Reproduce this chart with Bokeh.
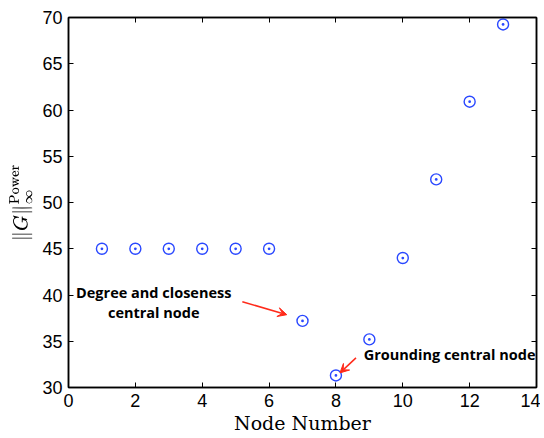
from bokeh.plotting import figure
from bokeh.models import Range1d, LinearAxis, Arrow, VeeHead, FixedTicker, Label
from bokeh.embed import file_html
from bokeh.resources import INLINE

nodes = [1, 2, 3, 4, 5, 6, 7, 8, 9, 10, 11, 12, 13]
hinf = [45.0, 45.0, 45.0, 45.0, 45.0, 45.0, 37.2, 31.3, 35.2, 44.0, 52.5, 60.9, 69.25]
xticks = [0, 2, 4, 6, 8, 10, 12, 14]
yticks = [30, 35, 40, 45, 50, 55, 60, 65, 70]

p = figure(width=540, height=436, output_backend="svg", toolbar_location=None,
           x_range=Range1d(0, 14), y_range=Range1d(30, 70),
           min_border_left=68, min_border_right=4, min_border_top=17, min_border_bottom=48)
p.grid.visible = False
p.outline_line_color = "black"
p.outline_line_width = 1.5

p.scatter(nodes, hinf, marker="circle_dot", size=11, line_color="#2a48ff",
          fill_color=None, line_width=1.4)

tick_font = "Liberation Sans"
for ax in [p.xaxis[0], p.yaxis[0]]:
    ax.major_label_text_font = tick_font
    ax.major_label_text_font_size = "18px"
    ax.major_label_text_color = "black"
    ax.axis_line_width = 1.5
    ax.major_tick_in = 5
    ax.major_tick_out = 0
    ax.minor_tick_line_color = None
    ax.major_label_standoff = 6
    ax.axis_label_text_color = "black"
p.xaxis[0].ticker = FixedTicker(ticks=xticks)
p.yaxis[0].ticker = FixedTicker(ticks=yticks)
p.xaxis[0].axis_label = "Node Number"
p.xaxis[0].axis_label_text_font = "DejaVu Serif"
p.xaxis[0].axis_label_text_font_style = "normal"
p.xaxis[0].axis_label_text_font_size = "19px"
p.xaxis[0].axis_label_standoff = 2
p.yaxis[0].axis_label = r"$$\|G\|_{\infty}^{\mathrm{Power}}$$"
p.yaxis[0].axis_label_text_font_size = "16px"
p.yaxis[0].axis_label_standoff = 7

for loc, tk in [("right", yticks), ("above", xticks)]:
    ax = LinearAxis(ticker=FixedTicker(ticks=tk),
                    major_label_overrides={t: "" for t in tk},
                    major_tick_in=5, major_tick_out=0, minor_tick_line_color=None,
                    axis_line_width=1.5, major_label_standoff=0)
    p.add_layout(ax, loc)

p.add_layout(Arrow(end=VeeHead(size=9, line_color="#ff2a1a", fill_color="#ff2a1a"),
                   x_start=5.2, y_start=39.27, x_end=6.53, y_end=37.87,
                   line_color="#ff2a1a", line_width=1.5))
p.add_layout(Arrow(end=VeeHead(size=9, line_color="#ff2a1a", fill_color="#ff2a1a"),
                   x_start=8.6, y_start=33.2, x_end=8.12, y_end=31.58,
                   line_color="#ff2a1a", line_width=1.5))

lab_font = "Open Sans"
for txt, x, y, align in [("Degree and closeness", 2.55, 40.27, "center"),
                         ("central node", 2.55, 38.12, "center"),
                         ("Grounding central node", 8.83, 33.56, "left")]:
    p.add_layout(Label(x=x, y=y, text=txt, text_font=lab_font, text_font_style="bold",
                       text_font_size="14.5px", text_align=align, text_baseline="middle",
                       text_color="black"))

open("out.html", "w").write(file_html(p, INLINE))
